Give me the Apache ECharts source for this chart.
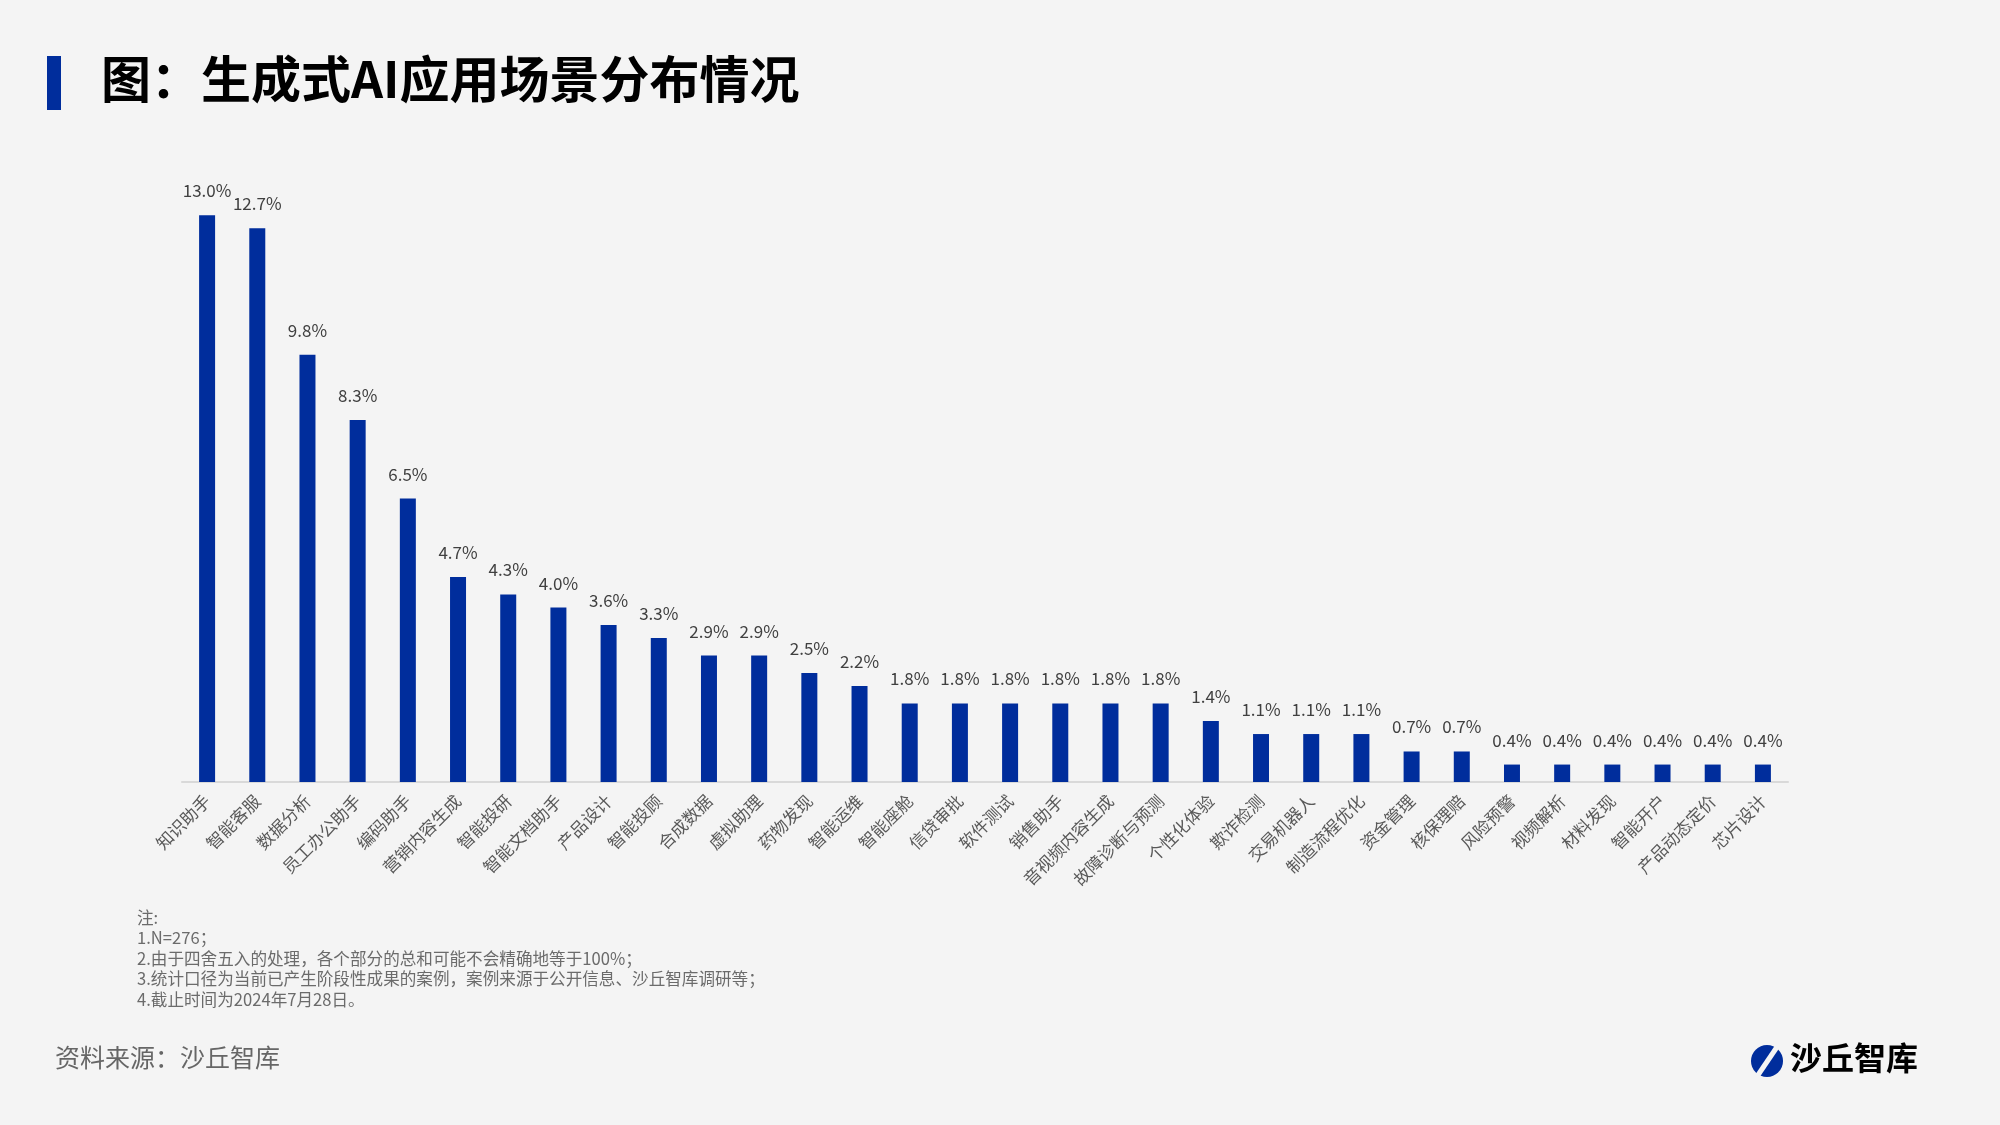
<!DOCTYPE html>
<html>
<head>
<meta charset="utf-8">
<script src="https://cdn.jsdelivr.net/npm/echarts@6/dist/echarts.min.js"></script>
<style>
  html, body { margin: 0; padding: 0; background: #f4f4f4; }
  #chart { width: 2000px; height: 1125px; }
</style>
</head>
<body>
<div id="chart"></div>
<script>
  // 场景名称
  var categories = ['知识助手', '智能客服', '数据分析', '员工办公助手', '编码助手', '营销内容生成', '智能投研',
    '智能文档助手', '产品设计', '智能投顾', '合成数据', '虚拟助理', '药物发现', '智能运维', '智能座舱',
    '信贷审批', '软件测试', '销售助手', '音视频内容生成', '故障诊断与预测', '个性化体验', '欺诈检测',
    '交易机器人', '制造流程优化', '资金管理', '核保理赔', '风险预警', '视频解析', '材料发现', '智能开户',
    '产品动态定价', '芯片设计'];
  // 占比（%）
  var shares = [13.0, 12.7, 9.8, 8.3, 6.5, 4.7, 4.3, 4.0, 3.6, 3.3, 2.9, 2.9, 2.5, 2.2, 1.8, 1.8, 1.8, 1.8,
    1.8, 1.8, 1.4, 1.1, 1.1, 1.1, 0.7, 0.7, 0.4, 0.4, 0.4, 0.4, 0.4, 0.4];
  var notes = ['注:', '1.N=276；', '2.由于四舍五入的处理，各个部分的总和可能不会精确地等于100%；',
    '3.统计口径为当前已产生阶段性成果的案例，案例来源于公开信息、沙丘智库调研等；', '4.截止时间为2024年7月28日。'];

  var blue = '#002d9c';
  var font = '"Noto Sans CJK SC", "Noto Sans", sans-serif';

  var noteText = [];
  notes.forEach(function (t, i) {
    noteText.push({
      type: 'text', left: 137, top: 909 + i * 20.5,
      style: { text: t, fill: '#6b6b6b', font: '16.6px ' + font }
    });
  });

  var myChart = echarts.init(document.getElementById('chart'));
  var option = {
    backgroundColor: '#f4f4f4',
    textStyle: { fontFamily: font },
    animation: false,
    grid: { left: 182, right: 212, top: 171.6, bottom: 343, containLabel: false },
    xAxis: {
      type: 'category',
      data: categories,
      axisLine: { lineStyle: { color: '#d9d9d9', width: 2 } },
      axisTick: { show: false },
      axisLabel: { rotate: 45, color: '#595959', fontSize: 17, margin: 16, interval: 0 }
    },
    yAxis: {
      type: 'value', min: 0, max: 14,
      show: false
    },
    series: [{
      type: 'bar',
      data: shares,
      barWidth: 16,
      itemStyle: { color: blue },
      label: {
        show: true, position: 'top', distance: 16,
        color: '#404040', fontSize: 17,
        formatter: function (p) { return p.value.toFixed(1) + '%'; }
      }
    }],
    graphic: [
      { type: 'rect', shape: { x: 47, y: 56, width: 14, height: 54 }, style: { fill: blue } },
      {
        type: 'text', left: 101, top: 54,
        style: { text: '图：生成式AI应用场景分布情况', fill: '#000', font: 'bold 50px ' + font }
      },
      {
        type: 'text', left: 55, top: 1045,
        style: { text: '资料来源：沙丘智库', fill: '#666', font: '25px ' + font }
      },
      { type: 'circle', shape: { cx: 1767, cy: 1061, r: 16 }, style: { fill: blue } },
      {
        type: 'line', shape: { x1: 1756, y1: 1078, x2: 1779, y2: 1044 },
        style: { stroke: '#f4f4f4', lineWidth: 5 }
      },
      {
        type: 'text', left: 1790, top: 1042,
        style: { text: '沙丘智库', fill: '#000', font: 'bold 32px ' + font }
      }
    ].concat(noteText)
  };
  myChart.setOption(option);
</script>
</body>
</html>
